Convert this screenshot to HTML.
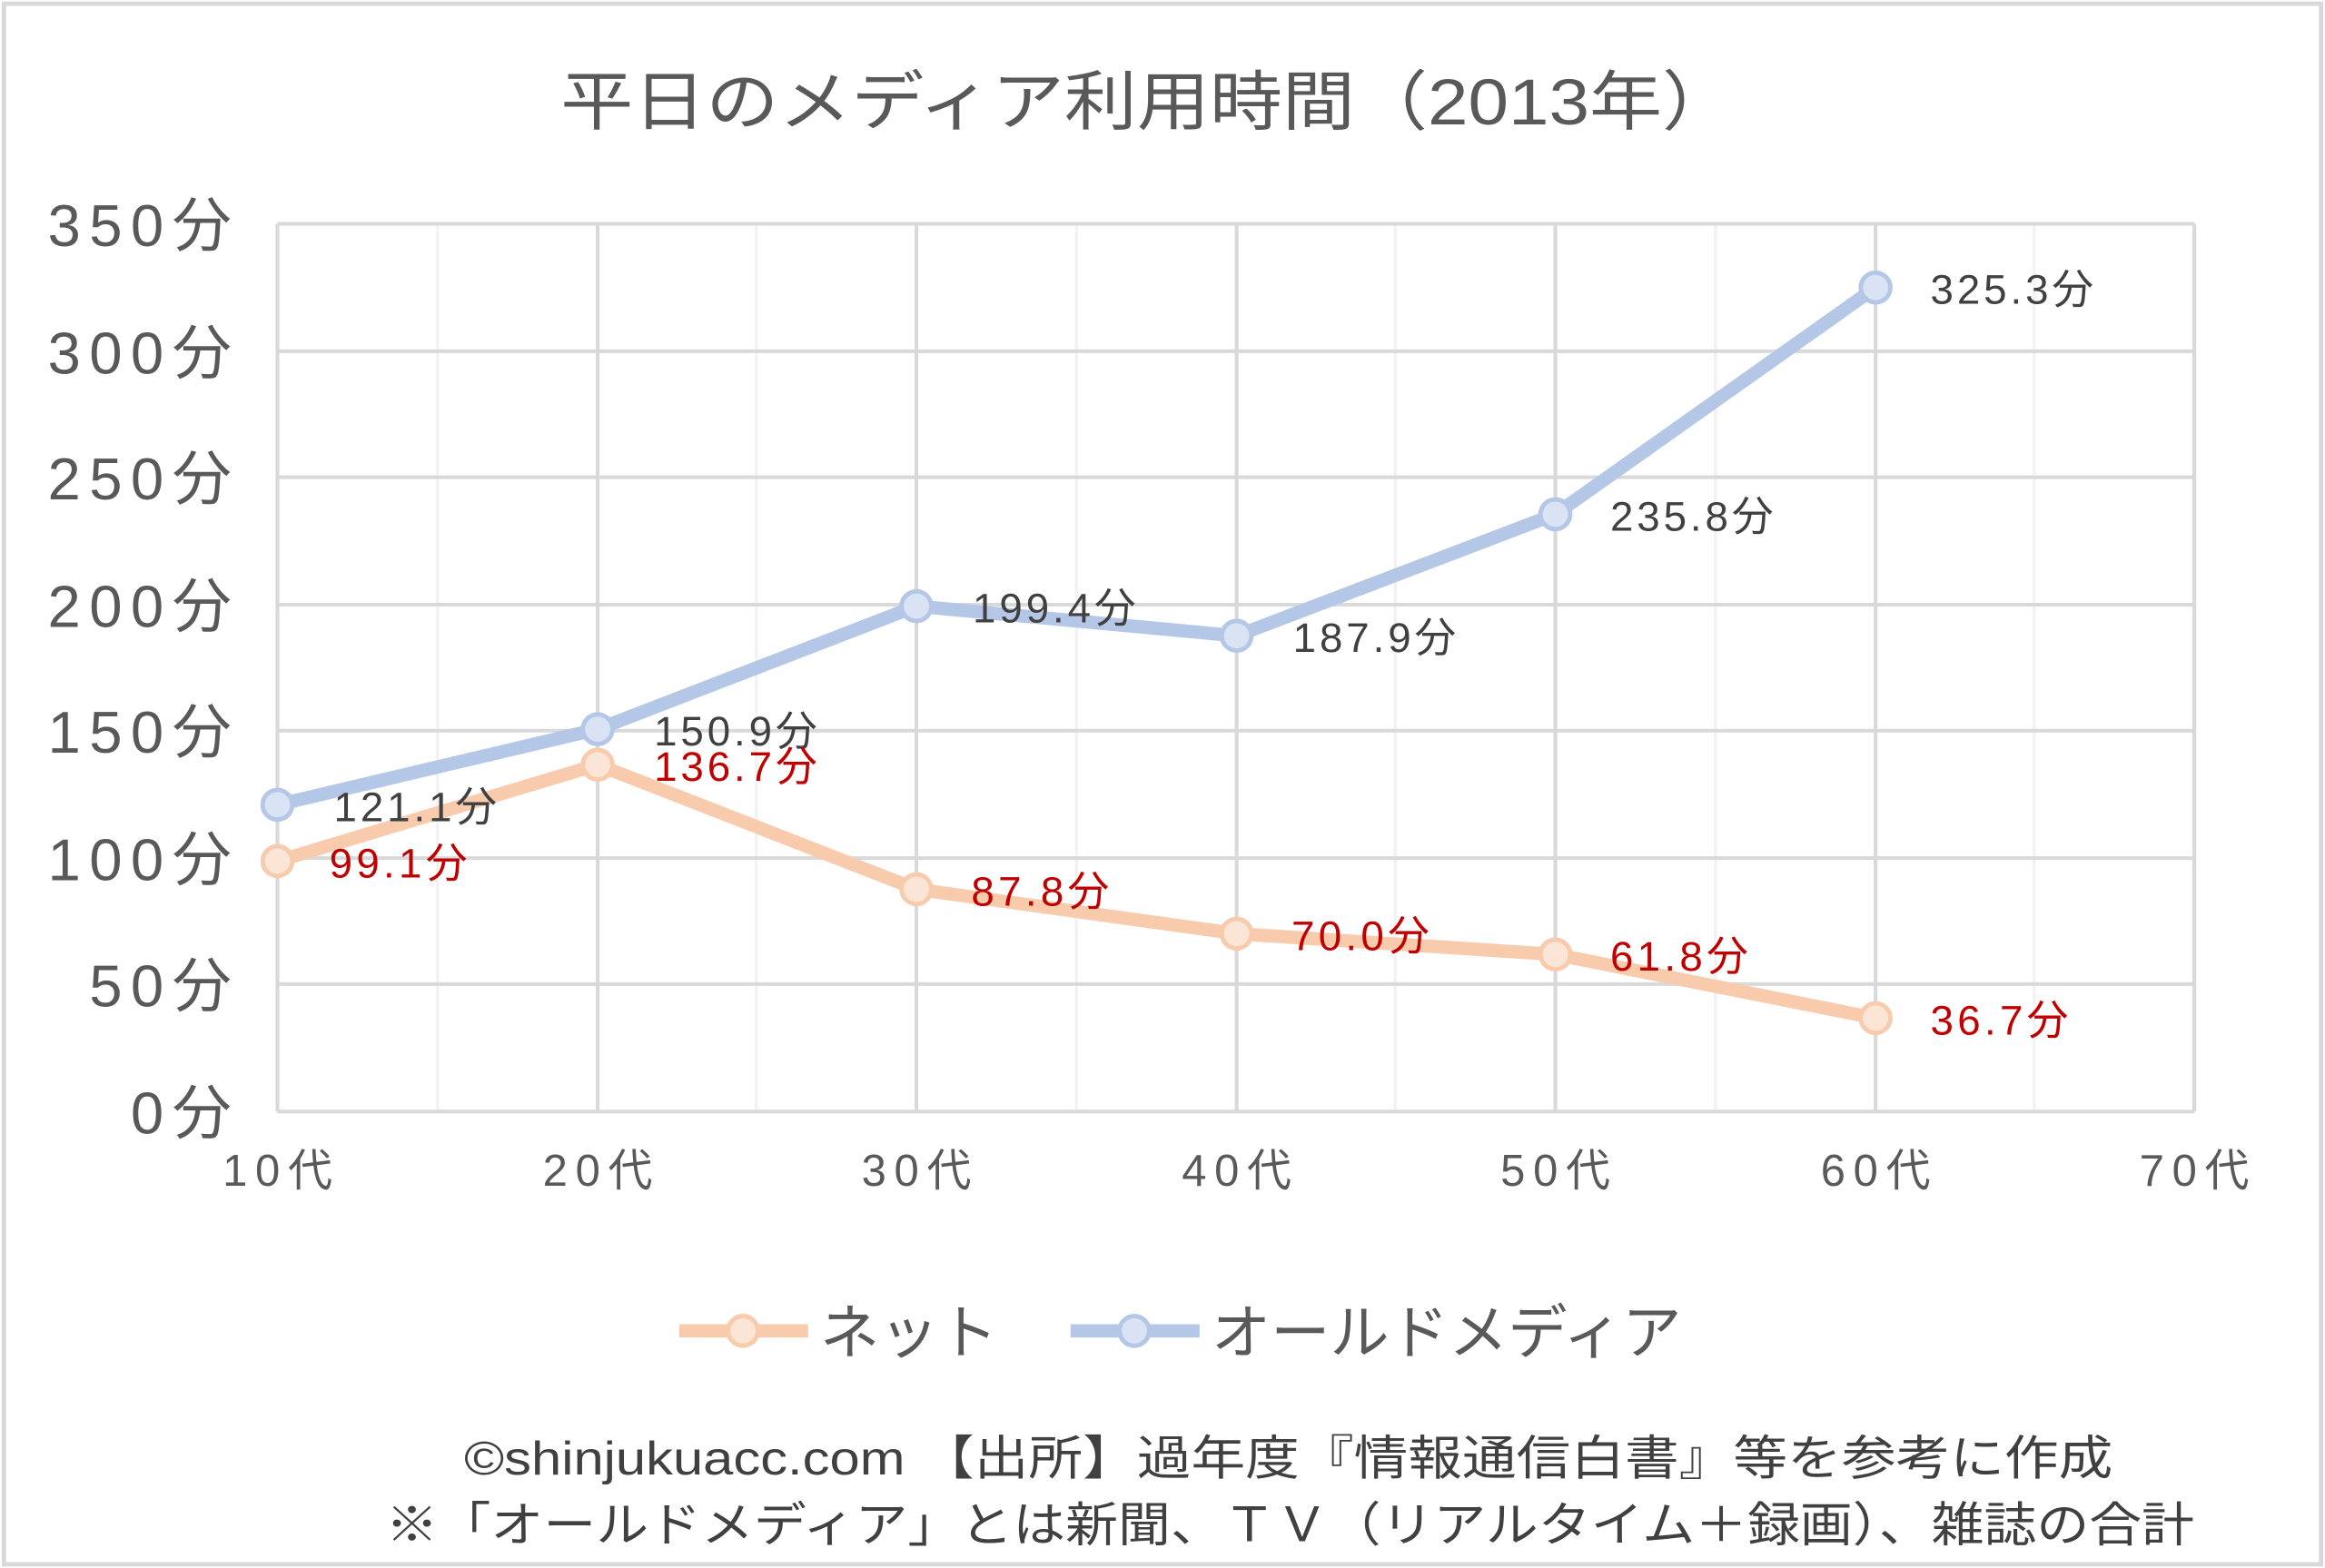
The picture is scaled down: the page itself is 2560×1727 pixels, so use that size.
<!DOCTYPE html>
<html><head><meta charset="utf-8"><style>
html,body{margin:0;padding:0;background:#fff;}
svg{display:block;}
text{font-family:"Liberation Sans","Noto Sans CJK JP",sans-serif;}
</style></head><body>
<svg width="2560" height="1727" viewBox="0 0 1568 1058" xmlns="http://www.w3.org/2000/svg">
<rect x="0" y="0" width="1568" height="1058" fill="#fff"/>
<rect x="2.5" y="2.5" width="1563" height="1053" fill="none" stroke="#d9d9d9" stroke-width="3"/>
<text x="378" y="84" font-size="44" fill="#595959" textLength="792" lengthAdjust="spacingAndGlyphs">平日のメディア利用時間（2013年）</text>
<g stroke="#f2f2f2" stroke-width="2">
<line x1="295" y1="151" x2="295" y2="750"/><line x1="510" y1="151" x2="510" y2="750"/>
<line x1="726" y1="151" x2="726" y2="750"/><line x1="941" y1="151" x2="941" y2="750"/>
<line x1="1157" y1="151" x2="1157" y2="750"/><line x1="1372" y1="151" x2="1372" y2="750"/>
</g>
<g stroke="#d9d9d9" stroke-width="2.5">
<line x1="403" y1="151" x2="403" y2="750"/><line x1="618" y1="151" x2="618" y2="750"/>
<line x1="834" y1="151" x2="834" y2="750"/><line x1="1049" y1="151" x2="1049" y2="750"/>
<line x1="1265" y1="151" x2="1265" y2="750"/><line x1="1480" y1="151" x2="1480" y2="750"/>
<line x1="187" y1="151" x2="1480" y2="151"/><line x1="187" y1="237" x2="1480" y2="237"/>
<line x1="187" y1="322" x2="1480" y2="322"/><line x1="187" y1="408" x2="1480" y2="408"/>
<line x1="187" y1="493" x2="1480" y2="493"/><line x1="187" y1="579" x2="1480" y2="579"/>
<line x1="187" y1="664" x2="1480" y2="664"/><line x1="187" y1="750" x2="1480" y2="750"/>
<line x1="187" y1="151" x2="187" y2="750"/>
</g>
<g font-size="40" fill="#595959" lengthAdjust="spacingAndGlyphs">
<text x="32" y="166" textLength="124">350分</text><text x="32" y="252" textLength="124">300分</text><text x="32" y="337" textLength="124">250分</text>
<text x="32" y="423" textLength="124">200分</text><text x="32" y="508" textLength="124">150分</text><text x="32" y="594" textLength="124">100分</text>
<text x="60" y="679" textLength="96">50分</text><text x="88" y="765" textLength="68">0分</text>
</g>
<g font-size="30" fill="#595959" text-anchor="middle" lengthAdjust="spacingAndGlyphs">
<text x="187" y="800" textLength="74">10代</text><text x="403" y="800" textLength="74">20代</text><text x="618" y="800" textLength="74">30代</text>
<text x="834" y="800" textLength="74">40代</text><text x="1049" y="800" textLength="74">50代</text><text x="1265" y="800" textLength="74">60代</text><text x="1480" y="800" textLength="74">70代</text>
</g>
<polyline points="187,581 403,516 618,600 834,630 1049,644 1265,687" fill="none" stroke="#f8cbad" stroke-width="9" stroke-linejoin="round"/>
<polyline points="187,543 403,492 618,409 834,429 1049,347 1265,194" fill="none" stroke="#b4c7e7" stroke-width="9" stroke-linejoin="round"/>
<g fill="#fbe5d6" stroke="#f8cbad" stroke-width="3">
<circle cx="187" cy="581" r="10"/><circle cx="403" cy="516" r="10"/><circle cx="618" cy="600" r="10"/>
<circle cx="834" cy="630" r="10"/><circle cx="1049" cy="644" r="10"/><circle cx="1265" cy="687" r="10"/>
</g>
<g fill="#dae3f3" stroke="#b4c7e7" stroke-width="3">
<circle cx="187" cy="543" r="10"/><circle cx="403" cy="492" r="10"/><circle cx="618" cy="409" r="10"/>
<circle cx="834" cy="429" r="10"/><circle cx="1049" cy="347" r="10"/><circle cx="1265" cy="194" r="10"/>
</g>
<g font-size="28" fill="#404040" lengthAdjust="spacingAndGlyphs">
<text x="225" y="554" textLength="110">121.1分</text><text x="441" y="503" textLength="110">150.9分</text><text x="656" y="420" textLength="110">199.4分</text>
<text x="872" y="440" textLength="110">187.9分</text><text x="1086" y="358" textLength="110">235.8分</text><text x="1302" y="205" textLength="110">325.3分</text>
</g>
<g font-size="28" fill="#c00000" lengthAdjust="spacingAndGlyphs">
<text x="222" y="592" textLength="93">99.1分</text><text x="441" y="527" textLength="110">136.7分</text><text x="655" y="611" textLength="93">87.8分</text>
<text x="871" y="641" textLength="93">70.0分</text><text x="1086" y="655" textLength="93">61.8分</text><text x="1302" y="698" textLength="93">36.7分</text>
</g>
<line x1="458" y1="898" x2="545" y2="898" stroke="#f8cbad" stroke-width="9"/>
<circle cx="501" cy="898" r="10" fill="#fbe5d6" stroke="#f8cbad" stroke-width="3"/>
<text x="553" y="913" font-size="40" fill="#595959">ネット</text>
<line x1="722" y1="898" x2="809" y2="898" stroke="#b4c7e7" stroke-width="9"/>
<circle cx="765" cy="898" r="10" fill="#dae3f3" stroke="#b4c7e7" stroke-width="3"/>
<text x="817" y="913" font-size="40" fill="#595959">オールドメディア</text>
<text x="313" y="995" font-size="32" fill="#404040" textLength="1112" lengthAdjust="spacingAndGlyphs">©shinjukuacc.com 【出所】過年度『情報通信白書』等を参考に作成</text>
<text x="260" y="1040" font-size="32" fill="#404040" textLength="1220" lengthAdjust="spacingAndGlyphs">※「オールドメディア」とは新聞、ＴＶ（リアルタイム＋録画）、雑誌の合計</text>
</svg>
</body></html>
